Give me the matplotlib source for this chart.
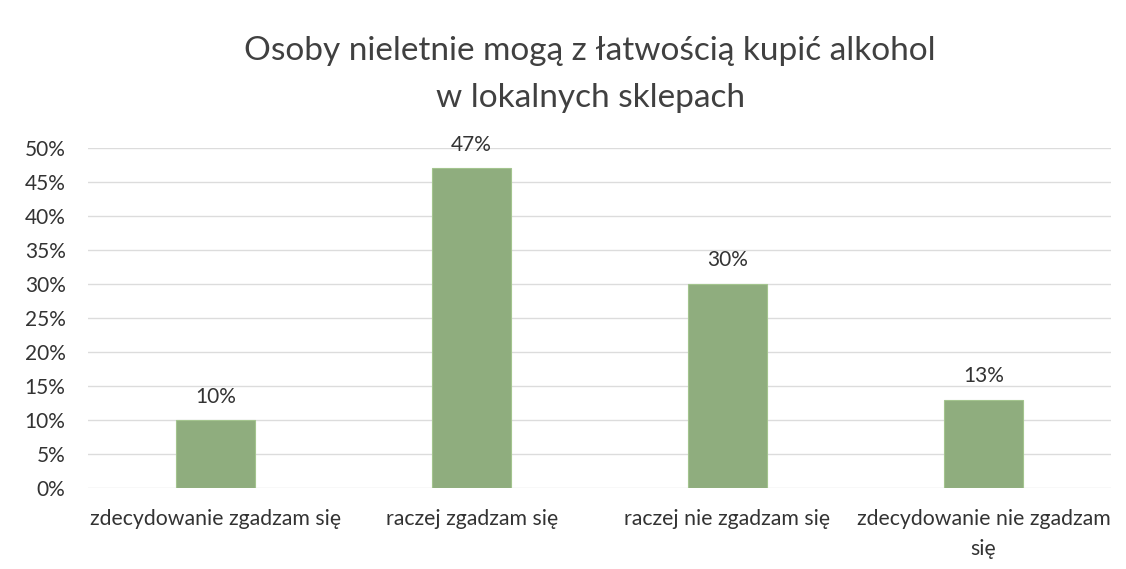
import matplotlib.pyplot as plt
from matplotlib.ticker import PercentFormatter

plt.rcParams['font.family'] = ['Lato', 'DejaVu Sans']

title = "Osoby nieletnie mogą z łatwością kupić alkohol\nw lokalnych sklepach"
categories = ["zdecydowanie zgadzam się", "raczej zgadzam się",
              "raczej nie zgadzam się", "zdecydowanie nie zgadzam\nsię"]
values = [0.10, 0.47, 0.30, 0.13]
yticks = [0, 0.05, 0.10, 0.15, 0.20, 0.25, 0.30, 0.35, 0.40, 0.45, 0.50]

fig = plt.figure(figsize=(11.26, 5.69), dpi=100)
ax = fig.add_axes([0.078, 0.142, 0.909, 0.598])

x = range(len(categories))
bars = ax.bar(x, values, width=0.31, color='#8fad7e', edgecolor='#a3c48e', linewidth=0.8, zorder=3)
for b, v in zip(bars, values):
    ax.text(b.get_x() + b.get_width() / 2, v + 0.02, f"{round(v * 100)}%",
            ha='center', va='bottom', fontsize=15, color='#333333')

ax.set_xlim(-0.5, len(categories) - 0.5)
ax.set_ylim(0, 0.5)
ax.set_yticks(yticks)
ax.yaxis.set_major_formatter(PercentFormatter(1.0, decimals=0))
ax.set_xticks(list(x))
ax.set_xticklabels(categories, fontsize=15.3, color='#333333', linespacing=1.65)
ax.tick_params(axis='y', labelsize=15, labelcolor='#333333', length=0, pad=16)
ax.tick_params(axis='x', length=0, pad=15)
ax.grid(axis='y', color='#dcdcdc', linewidth=1, zorder=0)
for s in ax.spines.values():
    s.set_visible(False)

fig.text(0.524, 0.937, title, ha='center', va='top', fontsize=24,
         color='#404040', linespacing=1.72)

fig.savefig('out.png', dpi=100, facecolor='white')
